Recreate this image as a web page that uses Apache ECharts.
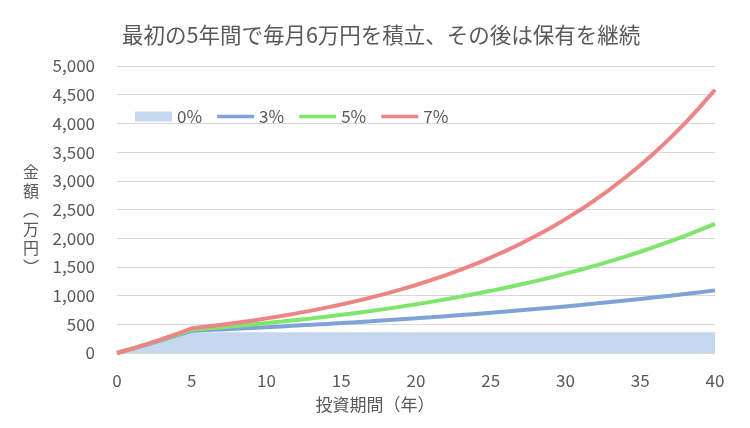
<!DOCTYPE html>
<html><head><meta charset="utf-8">
<script src="https://cdn.jsdelivr.net/npm/echarts@6/dist/echarts.min.js"></script>
<style>html,body{margin:0;padding:0;background:#fff}#c{width:750px;height:428px}</style>
</head><body><div id="c"></div>
<script>
const years = [0,1,2,3,4,5,6,7,8,9,10,11,12,13,14,15,16,17,18,19,20,21,22,23,24,25,26,27,28,29,30,31,32,33,34,35,36,37,38,39,40];
const seriesNames = ['0%','3%','5%','7%'];
const rate0 = [0,72,144,216,288,360,360,360,360,360,360,360,360,360,360,360,360,360,360,360,360,360,360,360,360,360,360,360,360,360,360,360,360,360,360,360,360,360,360,360,360];
const rate3 = [0,73,148,226,306,388,399,411,424,437,450,463,477,491,506,521,537,553,570,587,604,622,641,660,680,700,721,743,765,788,812,836,861,887,914,941,970,999,1029,1059,1091];
const rate5 = [0,74,151,233,318,408,428,450,472,496,521,547,574,603,633,665,698,733,769,808,848,891,935,982,1031,1083,1137,1194,1253,1316,1382,1451,1523,1600,1680,1764,1852,1944,2042,2144,2251];
const rate7 = [0,74,154,240,331,430,460,492,526,563,603,645,690,738,790,845,904,968,1035,1108,1185,1268,1357,1452,1554,1663,1779,1903,2037,2179,2332,2495,2670,2857,3057,3270,3499,3744,4006,4287,4587];
const yTicks = {min:0, max:5000, step:500};

const font = '"Noto Sans CJK JP", "Noto Sans", sans-serif';
const txt = '#595959';
const colors = ['#c6d8f0','#7ea3d6','#7ee66c','#ee8585'];
const linePath = 'path://M0,0L40,0L40,4L0,4Z';

const chart = echarts.init(document.getElementById('c'));
chart.setOption({
  animation:false,
  textStyle:{fontFamily:font},
  title:{text:'最初の5年間で毎月6万円を積立、その後は保有を継続', left:117, top:19,
    textStyle:{fontFamily:font, fontSize:21.5, fontWeight:'normal', color:txt}},
  legend:{left:130, top:103, itemWidth:37, itemHeight:10, itemGap:15, symbolKeepAspect:true,
    textStyle:{fontFamily:font, fontSize:17, color:txt},
    data:[
      {name:seriesNames[0], icon:'rect', itemStyle:{color:colors[0]}},
      {name:seriesNames[1], icon:linePath, itemStyle:{color:colors[1]}},
      {name:seriesNames[2], icon:linePath, itemStyle:{color:colors[2]}},
      {name:seriesNames[3], icon:linePath, itemStyle:{color:colors[3]}}
    ]},
  grid:{left:117, right:35, top:66, bottom:75},
  xAxis:{type:'category', data:years, boundaryGap:false,
    name:'投資期間（年）', nameLocation:'middle', nameGap:43,
    nameTextStyle:{fontFamily:font, fontSize:17, color:txt, padding:[0,82,0,0]},
    axisLine:{show:false}, axisTick:{show:false},
    axisLabel:{interval:4, margin:19, fontSize:17, color:txt, fontFamily:font},
    splitLine:{show:false}},
  yAxis:{type:'value', min:yTicks.min, max:yTicks.max, interval:yTicks.step,
    name:'\n金\n額\n︵\n万\n円\n︶', nameLocation:'middle', nameRotate:0, nameGap:78,
    nameTextStyle:{fontFamily:font, fontSize:16, color:txt, lineHeight:19},
    axisLine:{show:false}, axisTick:{show:false},
    axisLabel:{margin:22, fontSize:17, color:txt, fontFamily:font,
      formatter:v=>v.toLocaleString('en-US')},
    splitLine:{lineStyle:{color:'#d9d9d9', width:1}}},
  series:[
    {name:seriesNames[0], type:'line', data:rate0, symbol:'none', lineStyle:{width:0},
      itemStyle:{color:colors[0]}, areaStyle:{color:colors[0], opacity:1}, z:1},
    {name:seriesNames[1], type:'line', data:rate3, symbol:'none',
      lineStyle:{width:4, color:colors[1]}, itemStyle:{color:colors[1]}, z:2},
    {name:seriesNames[2], type:'line', data:rate5, symbol:'none',
      lineStyle:{width:4, color:colors[2]}, itemStyle:{color:colors[2]}, z:3},
    {name:seriesNames[3], type:'line', data:rate7, symbol:'none',
      lineStyle:{width:4, color:colors[3]}, itemStyle:{color:colors[3]}, z:4}
  ]
});
</script></body></html>
